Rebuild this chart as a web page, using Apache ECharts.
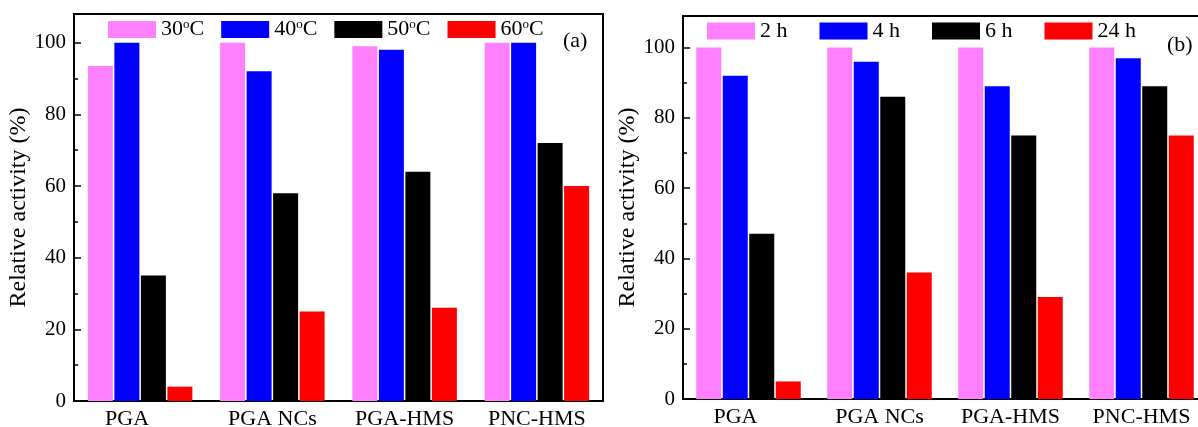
<!DOCTYPE html>
<html>
<head>
<meta charset="utf-8">
<script src="https://cdn.jsdelivr.net/npm/echarts@6.0.0/dist/echarts.min.js"></script>
<style>
  html, body { margin: 0; padding: 0; background: #fff; }
  #main { width: 1198px; height: 427px; }
</style>
</head>
<body>
<div id="main"></div>
<script>
// categories on the x axis (same for both panels)
const categories = ['PGA', 'PGA NCs', 'PGA-HMS', 'PNC-HMS'];

// panel (a): temperature
const tempNames = ['30°C', '40°C', '50°C', '60°C'];
const temp30 = [93.5, 100, 99, 100];
const temp40 = [100, 92, 98, 100];
const temp50 = [35, 58, 64, 72];
const temp60 = [4, 25, 26, 60];

// panel (b): time
const timeNames = ['2 h', '4 h', '6 h', '24 h'];
const time2h = [100, 100, 100, 100];
const time4h = [92, 96, 89, 97];
const time6h = [47, 86, 75, 89];
const time24h = [5, 36, 29, 75];

// y ticks
const majorTicks = [0, 20, 40, 60, 80, 100];
const minorTicks = [10, 30, 50, 70, 90];

const colors = ['#FF80FF', '#0000FF', '#000000', '#FF0000'];
const font = 'Liberation Serif';

var myChart = echarts.init(document.getElementById('main'), null, { renderer: 'canvas' });

function mainY(grid, max) {
  return {
    type: 'value',
    gridIndex: grid,
    position: 'left',
    min: 0,
    max: max,
    name: 'Relative activity (%)',
    nameLocation: 'middle',
    nameGap: 40,
    nameRotate: 90,
    nameTextStyle: { fontSize: 24, color: '#000', fontFamily: font },
    axisLine: { show: true, lineStyle: { color: '#000', width: 2 } },
    axisTick: { show: true, inside: true, length: 7, customValues: majorTicks, lineStyle: { color: '#000', width: 1.5 } },
    axisLabel: { customValues: majorTicks, fontSize: 21, color: '#000', fontFamily: font, margin: 8 },
    splitLine: { show: false }
  };
}
// second y axis only for the small ticks in between (same side as the main one)
function minorY(grid, max) {
  return {
    type: 'value',
    gridIndex: grid,
    position: 'left',
    min: 0,
    max: max,
    axisLine: { show: false },
    axisTick: { show: true, inside: true, length: 4, customValues: minorTicks, lineStyle: { color: '#000', width: 1.5 } },
    axisLabel: { show: false },
    splitLine: { show: false }
  };
}
function catX(grid) {
  return {
    type: 'category',
    gridIndex: grid,
    data: categories,
    axisLine: { show: true, lineStyle: { color: '#000', width: 2 } },
    axisTick: { show: false },
    axisLabel: {
      fontSize: 22, color: '#000', fontFamily: font, margin: 7, interval: 0,
      // first label sits a bit left of its group in the original
      formatter: function (v, i) { return i === 0 ? '{p|' + v + '}' : v; },
      rich: { p: { fontSize: 22, color: '#000', fontFamily: font, padding: [0, 26, 0, 0] } }
    }
  };
}
function bars(names, values, grid) {
  return names.map(function (n, i) {
    return {
      name: n,
      type: 'bar',
      xAxisIndex: grid,
      yAxisIndex: grid * 2,
      data: values[i],
      barWidth: 25,
      barGap: '6%',
      itemStyle: { color: colors[i] },
      animation: false
    };
  });
}

var legendText = {
  fontSize: 22,
  color: '#000',
  fontFamily: font,
  rich: {
    sup: { fontSize: 13, fontFamily: font, color: '#000', verticalAlign: 'top', padding: [0, 0, 10, 0] }
  }
};

var option = {
  backgroundColor: '#fff',
  textStyle: { fontFamily: font },
  title: [
    { text: '(a)', left: 563, top: 30, padding: 0, textStyle: { fontSize: 22, fontWeight: 'normal', color: '#000', fontFamily: font } },
    { text: '(b)', left: 1167, top: 34, padding: 0, textStyle: { fontSize: 22, fontWeight: 'normal', color: '#000', fontFamily: font } }
  ],
  legend: [{
    data: tempNames,
    left: 108,
    top: 18,
    padding: 0,
    itemWidth: 48,
    itemHeight: 17,
    itemGap: 17,
    icon: 'rect',
    formatter: function (name) { return name.replace('°C', '{sup|o}C'); },
    textStyle: legendText
  }, {
    data: timeNames,
    left: 707,
    top: 20,
    padding: 0,
    itemWidth: 48,
    itemHeight: 17,
    itemGap: 32,
    icon: 'rect',
    textStyle: legendText
  }],
  grid: [
    { left: 74, top: 14, right: 595, bottom: 26, show: true, borderColor: '#000', borderWidth: 2, backgroundColor: 'transparent', outerBoundsMode: 'none' },
    { left: 683, top: 16, right: -9, bottom: 28, show: true, borderColor: '#000', borderWidth: 2, backgroundColor: 'transparent', outerBoundsMode: 'none' }
  ],
  xAxis: [catX(0), catX(1)],
  yAxis: [mainY(0, 108), minorY(0, 108), mainY(1, 109), minorY(1, 109)],
  series: bars(tempNames, [temp30, temp40, temp50, temp60], 0)
    .concat(bars(timeNames, [time2h, time4h, time6h, time24h], 1))
};

myChart.setOption(option);
</script>
</body>
</html>
